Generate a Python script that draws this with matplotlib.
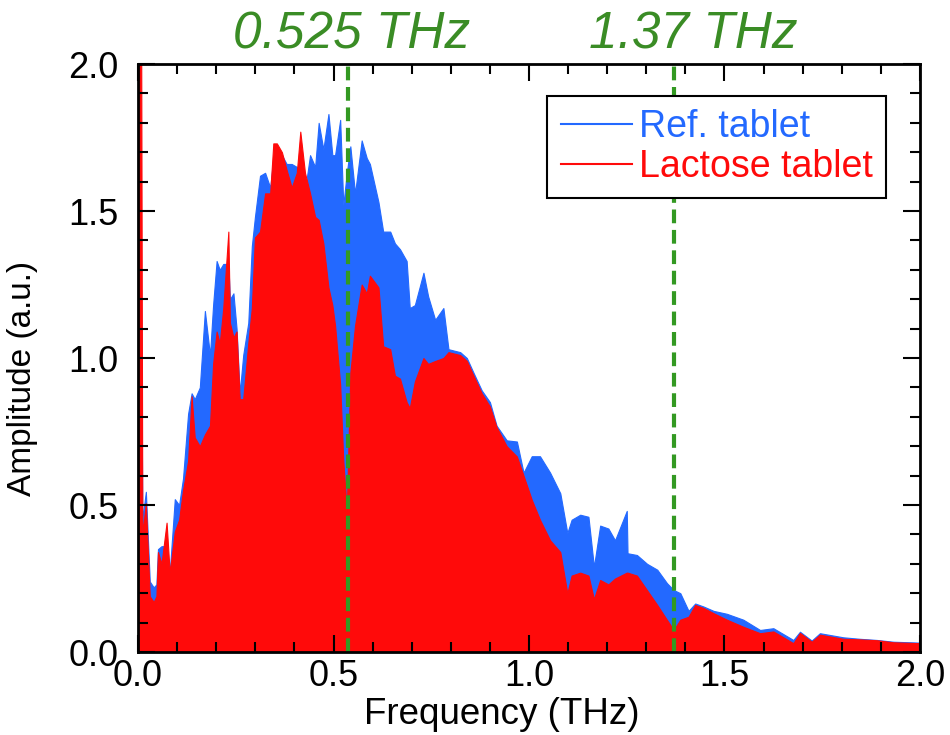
import matplotlib
matplotlib.use("Agg")
import matplotlib.pyplot as plt
from matplotlib.ticker import MultipleLocator
from matplotlib.lines import Line2D

# upper envelope of the two spectra
freq = [0.0, 0.008, 0.011, 0.02, 0.03, 0.04, 0.047, 0.051, 0.06, 0.073, 0.081, 0.094, 0.105, 0.115,
        0.128, 0.137, 0.145, 0.158, 0.171, 0.184, 0.192, 0.201, 0.209, 0.218, 0.231, 0.235, 0.244,
        0.252, 0.26, 0.269, 0.282, 0.291, 0.299, 0.312, 0.325, 0.338, 0.346, 0.355, 0.368, 0.380,
        0.393, 0.406, 0.415, 0.427, 0.44, 0.453, 0.462, 0.474, 0.487, 0.497, 0.504, 0.517, 0.525,
        0.534, 0.543, 0.555, 0.572, 0.585, 0.593, 0.615, 0.627, 0.645, 0.657, 0.67, 0.687, 0.695,
        0.708, 0.73, 0.742, 0.76, 0.781, 0.794, 0.824, 0.841, 0.858, 0.879, 0.9, 0.917, 0.943,
        0.969, 0.986, 1.007, 1.028, 1.054, 1.08, 1.098, 1.109, 1.131, 1.152, 1.166, 1.182, 1.203,
        1.22, 1.25, 1.252, 1.276, 1.302, 1.328, 1.353, 1.37, 1.387, 1.408, 1.425, 1.446, 1.472,
        1.506, 1.548, 1.591, 1.625, 1.676, 1.693, 1.723, 1.744, 1.804, 1.846, 1.89, 1.932, 2.0]

amp_ref = [2.1, 1.1, 0.45, 0.545, 0.24, 0.22, 0.23, 0.35, 0.36, 0.36, 0.27, 0.52, 0.50, 0.59,
           0.81, 0.88, 0.86, 0.90, 1.16, 1.01, 1.18, 1.33, 1.30, 1.32, 1.32, 1.20, 1.22,
           1.10, 0.88, 1.01, 1.12, 1.38, 1.48, 1.62, 1.63, 1.58, 1.68, 1.70, 1.69, 1.66,
           1.66, 1.65, 1.64, 1.57, 1.69, 1.65, 1.80, 1.71, 1.83, 1.69, 1.69, 1.81, 1.52,
           1.63, 1.72, 1.56, 1.74, 1.68, 1.66, 1.53, 1.43, 1.43, 1.39, 1.37, 1.33, 1.17,
           1.18, 1.29, 1.21, 1.13, 1.17, 1.03, 1.02, 1.00, 0.95, 0.89, 0.85, 0.77, 0.72,
           0.716, 0.61, 0.666, 0.666, 0.61, 0.54, 0.405, 0.45, 0.467, 0.46, 0.29, 0.43, 0.42,
           0.38, 0.48, 0.336, 0.33, 0.30, 0.28, 0.234, 0.211, 0.20, 0.14, 0.165, 0.155, 0.14,
           0.13, 0.11, 0.075, 0.081, 0.041, 0.069, 0.039, 0.064, 0.05, 0.045, 0.041, 0.035, 0.032]

amp_lac = [2.1, 2.1, 0.40, 0.506, 0.19, 0.17, 0.19, 0.34, 0.30, 0.44, 0.27, 0.41, 0.45, 0.55,
           0.65, 0.87, 0.73, 0.70, 0.74, 0.77, 0.98, 1.09, 1.05, 1.17, 1.43, 1.12, 1.07,
           1.09, 0.86, 0.86, 1.05, 1.17, 1.41, 1.43, 1.56, 1.56, 1.73, 1.73, 1.70, 1.64,
           1.58, 1.63, 1.77, 1.63, 1.56, 1.48, 1.47, 1.39, 1.24, 1.18, 1.11, 0.91, 0.65,
           0.48, 0.95, 1.11, 1.25, 1.22, 1.28, 1.24, 1.04, 1.03, 0.94, 0.93, 0.85, 0.83,
           0.92, 1.00, 0.98, 0.99, 1.00, 1.02, 1.01, 0.99, 0.94, 0.88, 0.835, 0.765, 0.70,
           0.665, 0.60, 0.518, 0.45, 0.38, 0.34, 0.20, 0.26, 0.27, 0.26, 0.18, 0.245, 0.23,
           0.25, 0.27, 0.27, 0.26, 0.21, 0.16, 0.109, 0.075, 0.11, 0.12, 0.16, 0.15, 0.132,
           0.11, 0.086, 0.064, 0.07, 0.03, 0.065, 0.035, 0.059, 0.045, 0.043, 0.04, 0.033, 0.03]

series_names = ["Ref. tablet", "Lactose tablet"]
series_colors = ["#2369ff", "#ff0a0a"]

marker_freq = [0.537, 1.37]
marker_labels = ["0.525 THz", "1.37 THz"]
marker_label_x = [0.547, 1.419]

plt.rcParams["font.family"] = ["Liberation Sans", "DejaVu Sans"]

fig = plt.figure(figsize=(9.5, 7.35), dpi=100)
ax = fig.add_axes([0.1453, 0.1129, 0.8231, 0.8])

for amp, col in zip([amp_ref, amp_lac], series_colors):
    ax.fill_between(freq, 0, amp, color=col, lw=0.8, edgecolor=col)

for fx in marker_freq:
    ax.axvline(fx, color="#339922", lw=3, ls=(0, (3.3, 1.6)), zorder=5)

for lx, lab in zip(marker_label_x, marker_labels):
    ax.text(lx, 1.008, lab, transform=ax.get_xaxis_transform(), ha="center", va="bottom",
            fontsize=37, style="italic", color="#3a8c25")

ax.set_xlim(0, 2.0)
ax.set_ylim(0, 2.0)
ax.xaxis.set_major_locator(MultipleLocator(0.5))
ax.xaxis.set_minor_locator(MultipleLocator(0.1))
ax.yaxis.set_major_locator(MultipleLocator(0.5))
ax.yaxis.set_minor_locator(MultipleLocator(0.1))
ax.xaxis.set_major_formatter(lambda v, p: f"{v:.1f}")
ax.yaxis.set_major_formatter(lambda v, p: f"{v:.1f}")
ax.tick_params(which="both", direction="in", top=True, right=True, width=1.5, labelsize=26)
ax.tick_params(which="major", length=12)
ax.tick_params(which="minor", length=7)
ax.tick_params(axis="x", pad=5)
ax.tick_params(axis="y", pad=14)
for sp in ax.spines.values():
    sp.set_linewidth(2)
    sp.set_zorder(6)

ax.set_xlabel("Frequency (THz)", fontsize=26.5)
ax.set_ylabel("Amplitude (a.u.)", fontsize=24)
ax.xaxis.set_label_coords(0.465, -0.077)
ax.yaxis.set_label_coords(-0.128, 0.465)

handles = [Line2D([], [], color=c, lw=1.5) for c in series_colors]
leg = ax.legend(handles, series_names, loc="upper right", bbox_to_anchor=(0.957, 0.945),
                prop={"size": 27}, frameon=True, fancybox=False, handlelength=1.9,
                handletextpad=0.2, borderpad=0.35, labelspacing=0.1, borderaxespad=0)
leg.get_frame().set_edgecolor("black")
leg.get_frame().set_linewidth(1.5)
leg.get_frame().set_alpha(1)
for t, c in zip(leg.get_texts(), series_colors):
    t.set_color(c)

fig.savefig("out.png", dpi=100)
